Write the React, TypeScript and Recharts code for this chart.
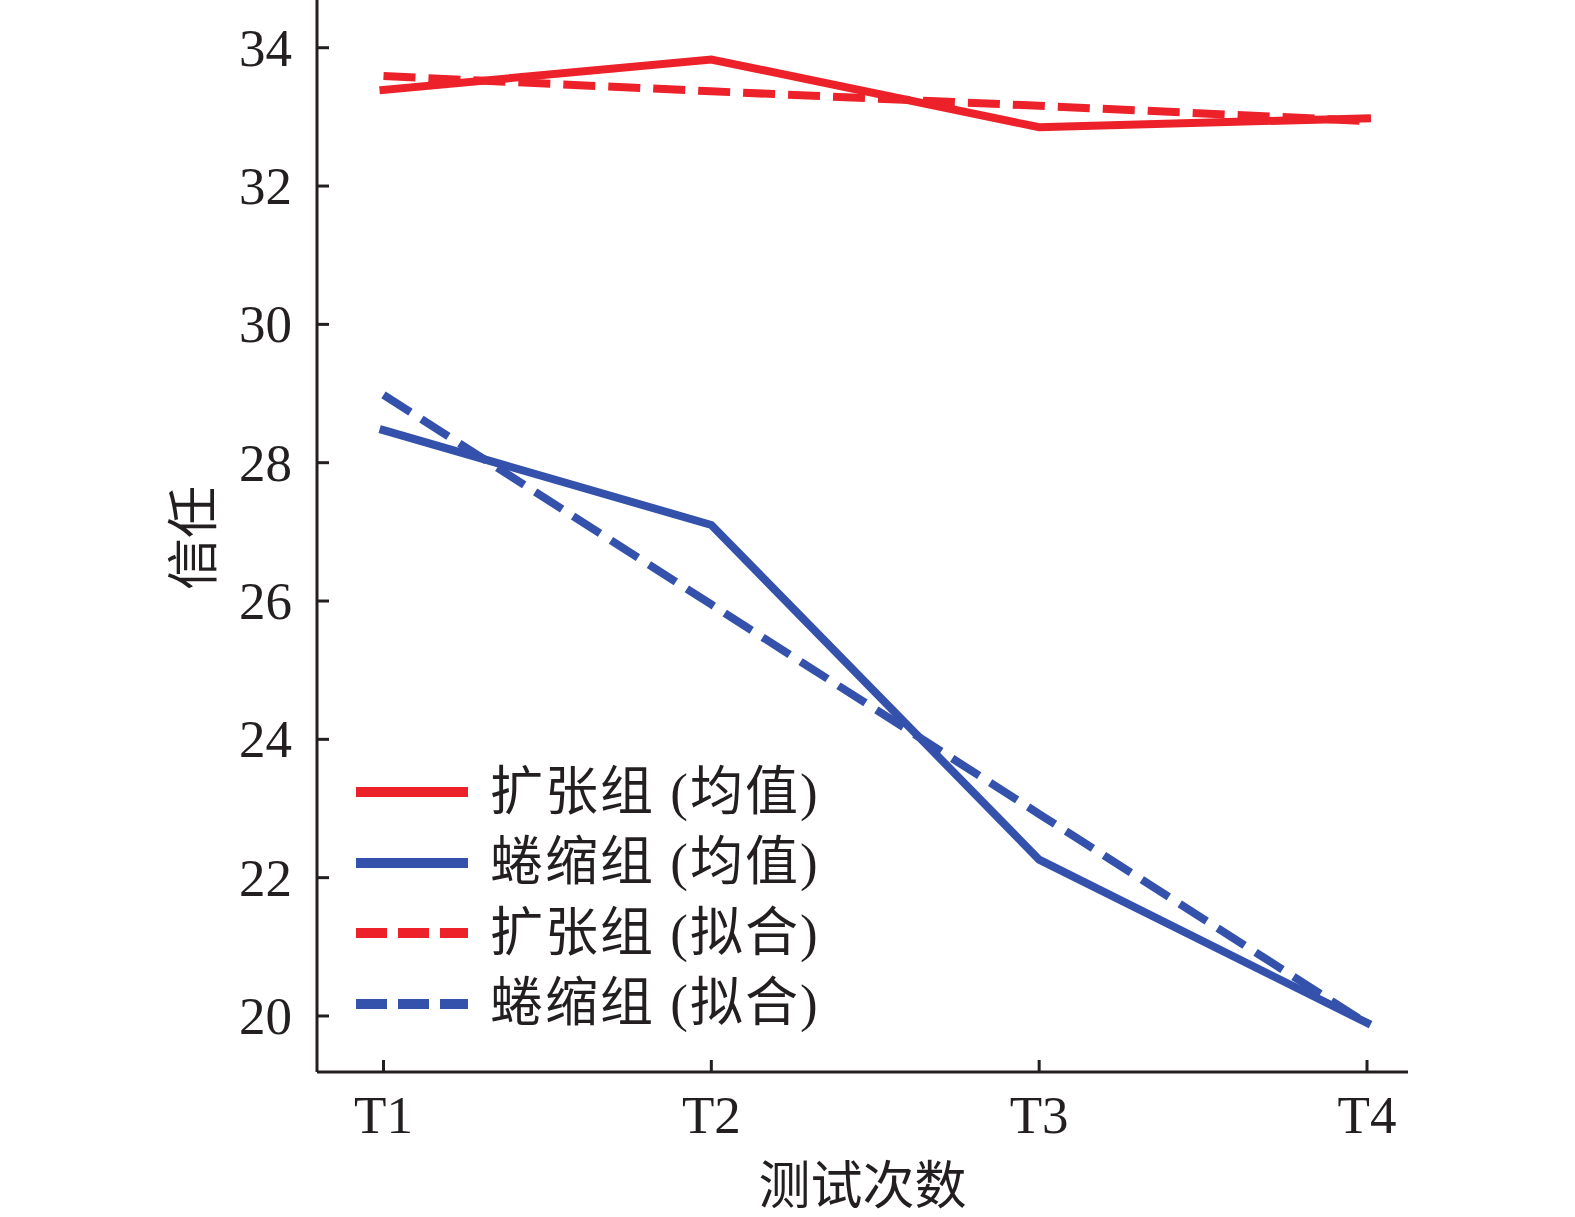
import React from 'react';
import { LineChart, Line, XAxis, YAxis, Legend } from 'recharts';

const times = ['T1', 'T2', 'T3', 'T4'];
const expandMean = [33.39, 33.83, 32.85, 32.98];
const shrinkMean = [28.47, 27.1, 22.26, 19.9];
const expandFit = [33.59, 33.37, 33.16, 32.94];
const shrinkFit = [28.98, 25.95, 22.92, 19.89];
const yTicks = [20, 22, 24, 26, 28, 30, 32, 34];

const seriesKeys = ['expandMean', 'shrinkMean', 'expandFit', 'shrinkFit'];
const seriesNames = {
  expandMean: '扩张组 (均值)',
  shrinkMean: '蜷缩组 (均值)',
  expandFit: '扩张组 (拟合)',
  shrinkFit: '蜷缩组 (拟合)',
};

const data = times.map((t, i) => ({
  t,
  expandMean: expandMean[i],
  shrinkMean: shrinkMean[i],
  expandFit: expandFit[i],
  shrinkFit: shrinkFit[i],
}));

const W = 1575;
const H = 1217;
const RED = '#ED2129';
const BLUE = '#3451AB';
const INK = '#231F20';
const FONT = '"Liberation Serif", "Noto Sans CJK SC", serif';

const YTick = (props: any) => {
  const { x, y, payload } = props;
  return (
    <g>
      <line x1={x} x2={x + 12} y1={y} y2={y} stroke={INK} strokeWidth={3} />
      <text x={x - 25} y={y} dy="0.34em" textAnchor="end" fontSize={53} fill={INK} fontFamily={FONT}>
        {payload.value}
      </text>
    </g>
  );
};

const XTick = (props: any) => {
  const { x, y, payload } = props;
  return (
    <g>
      <line x1={x} x2={x} y1={y} y2={y - 12} stroke={INK} strokeWidth={3} />
      <text x={x} y={y + 61} textAnchor="middle" fontSize={53} fill={INK} fontFamily={FONT}>
        {payload.value}
      </text>
    </g>
  );
};

const XLabel = (props: any) => {
  const vb = props.viewBox || { x: 317, y: 1072, width: 1091, height: 145 };
  return (
    <text x={vb.x + vb.width / 2} y={vb.y + 132} textAnchor="middle" fontSize={52} fill={INK} fontFamily={FONT}>
      测试次数
    </text>
  );
};

const YLabel = (props: any) => {
  const vb = props.viewBox || { x: 0, y: 0, width: 317, height: 1072 };
  const cx = vb.x + 194;
  const cy = vb.y + vb.height / 2 + 2;
  return (
    <text
      x={cx}
      y={cy}
      textAnchor="middle"
      dominantBaseline="central"
      transform={`rotate(-90, ${cx}, ${cy})`}
      fontSize={52}
      fill={INK}
      fontFamily={FONT}
    >
      信任
    </text>
  );
};

const LegendContent = (props: any) => {
  const payload = [...(props.payload || [])].sort(
    (a: any, b: any) => seriesKeys.indexOf(a.dataKey) - seriesKeys.indexOf(b.dataKey)
  );
  return (
    <div style={{ fontFamily: FONT }}>
      {payload.map((e: any, i: number) => (
        <div key={i} style={{ display: 'flex', alignItems: 'center', height: 70.5 }}>
          <svg width={112} height={20} style={{ display: 'block' }}>
            <line
              x1={0}
              x2={112}
              y1={10}
              y2={10}
              stroke={e.color}
              strokeWidth={10}
              strokeDasharray={e.payload && e.payload.strokeDasharray ? '31 11' : undefined}
            />
          </svg>
          <span
            style={{
              marginLeft: 22,
              fontSize: 53,
              lineHeight: 1,
              color: INK,
              whiteSpace: 'nowrap',
              letterSpacing: 2,
            }}
          >
            {e.value}
          </span>
        </div>
      ))}
    </div>
  );
};

export default function App() {
  return (
    <div style={{ position: 'absolute', left: 0, top: 0, width: W, height: H, background: '#fff', fontFamily: FONT }}>
      <LineChart width={W} height={H} data={data} margin={{ top: 0, right: 167, bottom: 0, left: 0 }}>
        <XAxis
          dataKey="t"
          height={145}
          padding={{ left: 66.5, right: 41 }}
          tickSize={0}
          tickMargin={0}
          tickLine={false}
          interval={0}
          axisLine={{ stroke: INK, strokeWidth: 3 }}
          tick={XTick}
          label={<XLabel />}
        />
        <YAxis
          type="number"
          width={317}
          domain={[19.19, 34.69]}
          ticks={yTicks}
          allowDataOverflow
          tickSize={0}
          tickMargin={0}
          tickLine={false}
          interval={0}
          axisLine={{ stroke: INK, strokeWidth: 3 }}
          tick={YTick}
          label={<YLabel />}
        />
        <Legend
          layout="vertical"
          align="center"
          verticalAlign="middle"
          content={LegendContent}
          wrapperStyle={{ left: 356, top: 757, width: 'auto', height: 'auto' }}
        />
        <Line
          type="linear"
          dataKey="expandMean"
          name={seriesNames.expandMean}
          stroke={RED}
          strokeWidth={8}
          strokeLinecap="square"
          dot={false}
          activeDot={false}
          isAnimationActive={false}
        />
        <Line
          type="linear"
          dataKey="shrinkMean"
          name={seriesNames.shrinkMean}
          stroke={BLUE}
          strokeWidth={8}
          strokeLinecap="square"
          dot={false}
          activeDot={false}
          isAnimationActive={false}
        />
        <Line
          type="linear"
          dataKey="expandFit"
          name={seriesNames.expandFit}
          stroke={RED}
          strokeWidth={8}
          strokeDasharray="32 13"
          dot={false}
          activeDot={false}
          isAnimationActive={false}
        />
        <Line
          type="linear"
          dataKey="shrinkFit"
          name={seriesNames.shrinkFit}
          stroke={BLUE}
          strokeWidth={8}
          strokeDasharray="32 13"
          dot={false}
          activeDot={false}
          isAnimationActive={false}
        />
      </LineChart>
    </div>
  );
}
